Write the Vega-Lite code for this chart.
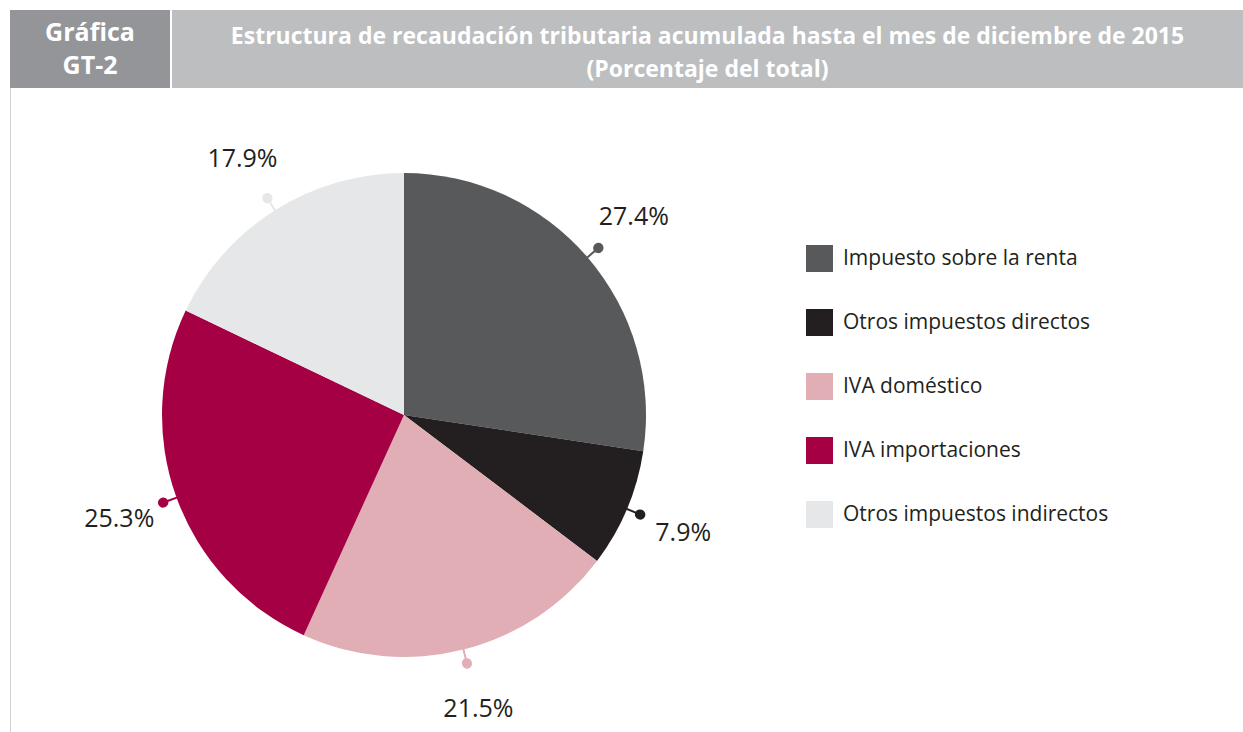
{
  "$schema": "https://vega.github.io/schema/vega-lite/v6.json",
  "padding": {"left": 10, "top": 10, "right": 0, "bottom": 0},
  "background": "white",
  "config": {
    "view": {"stroke": null},
    "concat": {"spacing": 0},
    "legend": {"padding": 0, "offset": 0}
  },
  "datasets": {
    "recaudacion": [
      {"categoria": "Impuesto sobre la renta", "porcentaje": 27.4, "orden": 1, "etiqueta": "27.4%"},
      {"categoria": "Otros impuestos directos", "porcentaje": 7.9, "orden": 2, "etiqueta": "7.9%"},
      {"categoria": "IVA doméstico", "porcentaje": 21.5, "orden": 3, "etiqueta": "21.5%"},
      {"categoria": "IVA importaciones", "porcentaje": 25.3, "orden": 4, "etiqueta": "25.3%"},
      {"categoria": "Otros impuestos indirectos", "porcentaje": 17.9, "orden": 5, "etiqueta": "17.9%"}
    ]
  },
  "spacing": 0,
  "vconcat": [
    {
      "spacing": 2,
      "hconcat": [
        {
          "width": 160,
          "height": 78,
          "view": {"fill": "#939598", "stroke": null},
          "data": {"values": [{"t": "Gráfica\nGT-2"}]},
          "mark": {"type": "text", "lineBreak": "\n", "font": "Open Sans", "fontSize": 25, "fontWeight": "bold", "color": "#ffffff", "lineHeight": 33, "align": "center", "baseline": "middle", "dy": -16},
          "encoding": {"text": {"field": "t"}}
        },
        {
          "width": 1071,
          "height": 78,
          "view": {"fill": "#bcbec0", "stroke": null},
          "data": {"values": [{"t": "Estructura de recaudación tributaria acumulada hasta el mes de diciembre de 2015\n(Porcentaje del total)"}]},
          "mark": {"type": "text", "lineBreak": "\n", "font": "Open Sans", "fontSize": 23, "fontWeight": "bold", "color": "#ffffff", "lineHeight": 33, "align": "center", "baseline": "middle", "dy": -12},
          "encoding": {"text": {"field": "t"}}
        }
      ]
    },
    {
      "spacing": 0,
      "hconcat": [
        {
          "width": 1,
          "height": 644,
          "view": {"fill": "#d1d3d4", "stroke": null},
          "data": {"values": []},
          "mark": "text",
          "encoding": {}
        },
        {
          "width": 786,
          "height": 644,
          "data": {"name": "recaudacion"},
          "encoding": {
            "theta": {"field": "porcentaje", "type": "quantitative", "stack": true},
            "order": {"field": "orden", "type": "quantitative"},
            "color": {
              "field": "categoria",
              "type": "nominal",
              "scale": {
                "domain": ["Impuesto sobre la renta", "Otros impuestos directos", "IVA doméstico", "IVA importaciones", "Otros impuestos indirectos"],
                "range": ["#58595b", "#231f20", "#e0aeb4", "#a50044", "#e6e7e8"]
              },
              "legend": {
                "title": null,
                "orient": "none",
                "legendX": 796,
                "legendY": 235,
                "symbolType": "square",
                "symbolSize": 729,
                "symbolStrokeWidth": 0,
                "symbolOpacity": 1,
                "labelFont": "Open Sans",
                "labelFontSize": 21,
                "labelColor": "#231f20",
                "labelOffset": 10,
                "labelLimit": 400,
                "rowPadding": 37
              }
            }
          },
          "layer": [
            {"mark": {"type": "arc", "outerRadius": 242, "yOffset": 5}},
            {"mark": {"type": "arc", "filled": false, "innerRadius": 236, "outerRadius": 256, "padAngle": 3.14, "strokeWidth": 2, "yOffset": 5}},
            {"mark": {"type": "arc", "filled": false, "innerRadius": 256, "outerRadius": 256.5, "padAngle": 3.14, "strokeWidth": 10, "strokeCap": "round", "strokeJoin": "round", "yOffset": 5}},
            {
              "mark": {"type": "text", "radius": 303, "font": "Open Sans", "fontSize": 25, "color": "#231f20", "align": "center", "baseline": "middle", "yOffset": 5},
              "encoding": {"text": {"field": "etiqueta"}, "color": {"value": "#231f20"}}
            }
          ]
        }
      ]
    }
  ]
}
